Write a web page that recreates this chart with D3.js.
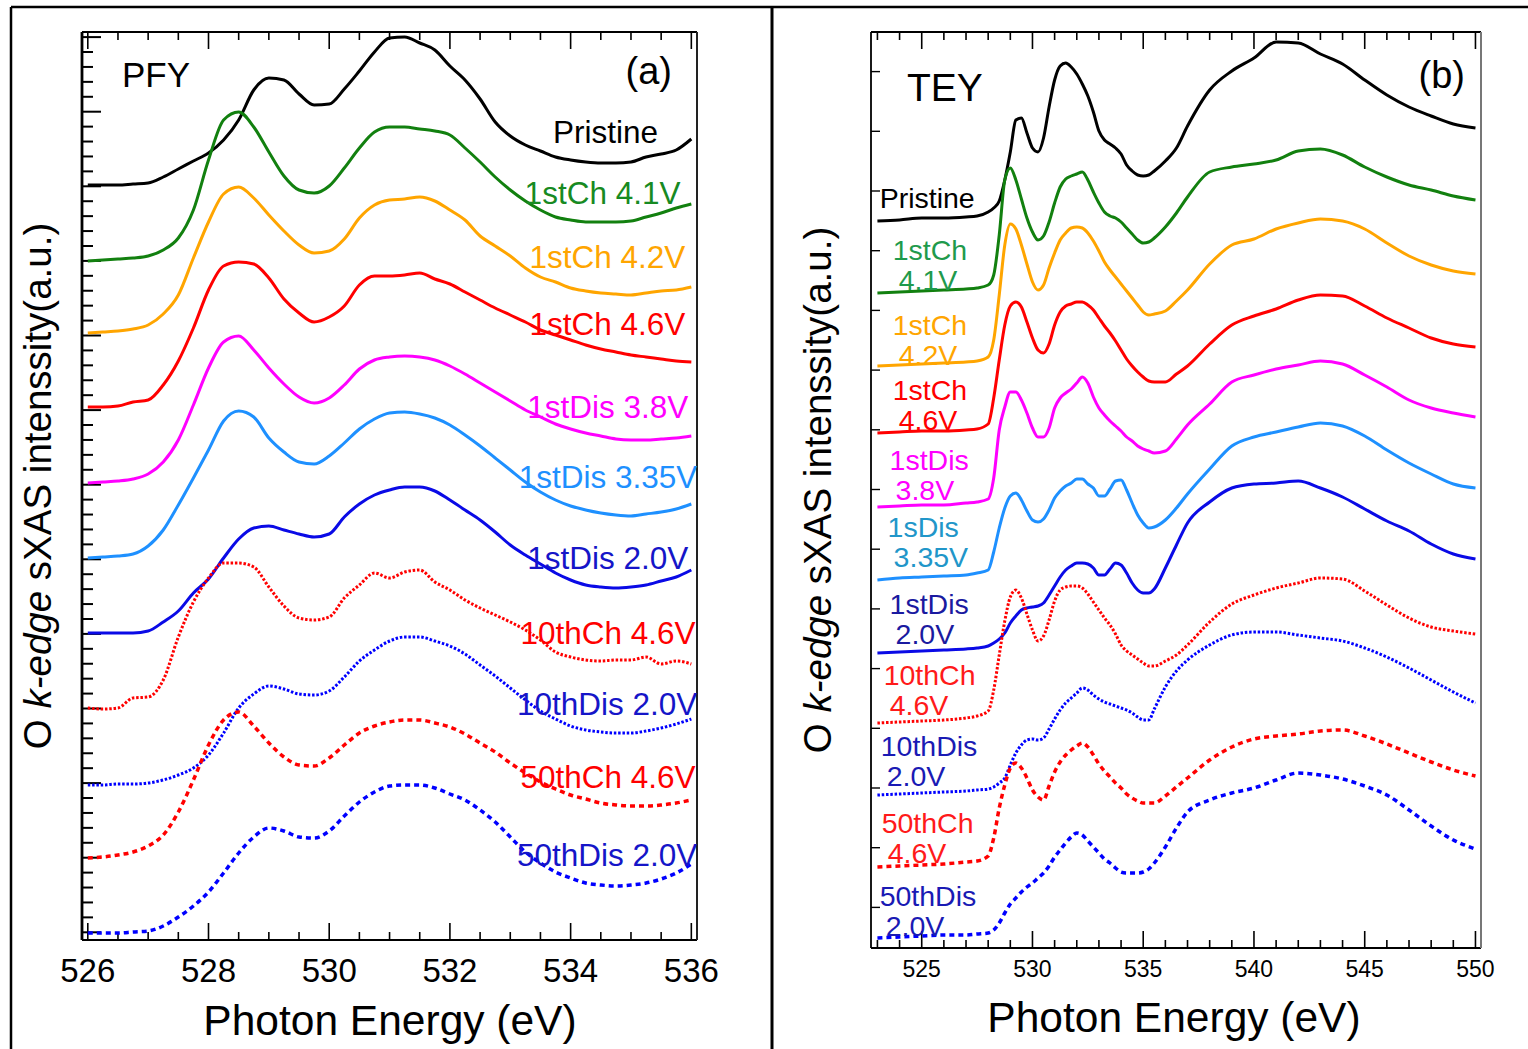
<!DOCTYPE html>
<html><head><meta charset="utf-8">
<script src="https://cdn.jsdelivr.net/npm/d3@7"></script>
<style>
body{margin:0;background:#fff;}
svg{display:block;}
text{font-family:"Liberation Sans",Arial,Helvetica,sans-serif;}
</style>
</head><body>
<svg id="chart" width="1528" height="1049"></svg>
<script>
// ---------------- DATA: panel (a) PFY ----------------
const pfyEnergy = [526,526.25,526.5,526.75,527,527.25,527.5,527.75,528,528.25,528.5,528.75,529,529.25,529.5,529.75,530,530.25,530.5,530.75,531,531.25,531.5,531.75,532,532.25,532.5,532.75,533,533.25,533.5,533.75,534,534.25,534.5,534.75,535,535.25,535.5,535.75,536];
const pfyPristine   = [755,755,755,756,757,763,771,779,787,800,820,850,862,860,846,835,836,851,869,888,902,903,897,890,874,860,841,818,804,795,789,783,780,778,777,777,778,783,786,790,801];
const pfyCh41       = [679,680,681,682,684,690,702,730,780,820,828,813,788,764,750,747,754,772,792,808,813,813,811,809,805,792,778,763,750,739,730,723,720,718,718,718,719,723,727,732,736];
const pfyCh42       = [607,608,609,611,615,626,645,682,718,746,753,742,725,709,695,687,689,701,722,735,740,741,743,739,730,720,704,694,684,672,663,658,652,649,647,646,645,647,649,650,653];
const pfyCh46       = [533,533,534,538,540,555,579,612,650,674,678,676,662,641,627,618,623,634,655,664,664,665,667,661,656,648,640,632,625,618,610,605,600,595,591,588,585,583,581,579,578];
const pfyDis38      = [457,458,459,461,466,478,500,535,572,598,604,590,572,556,543,537,542,555,571,580,583,584,583,580,574,566,557,548,539,530,523,516,511,507,504,501,500,500,501,502,504];
const pfyDis335     = [382,383,384,386,394,410,435,462,490,519,529,523,502,488,478,476,484,497,511,521,527,528,526,522,515,505,494,482,470,458,448,440,434,430,427,425,424,426,428,431,436];
const pfyDis20      = [307,307,307,307,309,318,329,347,361,382,401,412,414,410,406,403,406,423,436,445,450,453,453,449,440,430,420,408,395,385,376,367,360,355,353,352,353,355,359,363,370];
const pfy10Ch46     = [232,231,232,242,243,260,303,338,362,377,377,373,353,334,322,320,323,342,355,367,362,368,370,358,350,340,332,325,318,310,300,288,283,280,279,280,280,283,276,279,276];
const pfy10Dis20    = [155,155,156,156,157,160,165,172,185,207,232,246,254,251,246,245,249,263,279,290,299,303,303,299,294,286,275,264,252,240,229,221,214,210,208,207,207,209,212,216,221];
const pfy50Ch46     = [82,83,85,88,94,105,128,160,195,220,228,214,197,183,175,174,182,195,207,214,218,220,220,217,213,206,197,188,177,167,158,151,145,141,137,135,134,134,135,137,140];
const pfy50Dis20    = [7,7,7,8,9,14,23,34,48,67,87,103,112,109,103,102,109,124,138,148,154,155,155,152,146,140,130,118,103,88,77,68,62,57,55,54,55,57,61,67,76];
const pfyLabels = ["Pristine","1stCh 4.1V","1stCh 4.2V","1stCh 4.6V","1stDis 3.8V","1stDis 3.35V","1stDis 2.0V","10thCh 4.6V","10thDis 2.0V","50thCh 4.6V","50thDis 2.0V"];
const pfyTickLabels = ["526","528","530","532","534","536"];
const pfyMajorTicks = [526,528,530,532,534,536];

// ---------------- DATA: panel (b) TEY ----------------
const teyEnergy = [523,524,525,526,527,527.5,528,528.25,528.5,528.75,529,529.25,529.5,529.75,530,530.25,530.5,530.75,531,531.25,531.5,531.75,532,532.25,532.5,532.75,533,533.25,533.5,533.75,534,534.25,534.5,534.75,535,535.25,535.5,536,536.5,537,538,539,540,541,542,543,544,545,546,547,548,549,550];
const teyPristine = [727,728,730,730,731,732,736,740,747,768,796,828,830,815,800,796,810,841,868,882,885,881,874,864,852,836,817,808,804,800,794,783,777,773,772,773,777,787,800,822,858,877,890,906,905,894,884,868,853,841,832,824,820];
const teyCh41     = [655,656,657,658,659,660,663,673,713,768,780,768,749,730,716,708,712,726,745,761,769,772,774,776,768,756,745,736,732,730,726,720,714,708,705,706,710,721,735,751,776,781,784,788,797,799,793,781,771,763,758,752,748];
const teyCh42     = [582,583,584,585,586,587,591,608,653,703,724,719,703,684,666,658,663,680,695,708,715,720,721,720,715,707,697,686,678,671,664,657,650,643,636,633,634,637,647,658,684,703,709,719,725,729,727,719,705,692,683,677,674];
const teyCh46     = [515,516,517,517,518,519,524,550,588,623,642,646,641,626,610,598,595,604,623,636,642,644,646,646,643,638,630,622,615,607,598,589,582,576,571,567,566,566,574,582,604,623,632,639,648,653,652,642,630,620,610,604,601];
const teyDis38    = [441,442,443,443,445,446,449,470,518,541,556,556,548,535,520,511,511,520,540,550,555,559,565,571,565,551,540,533,527,522,517,511,507,502,499,497,495,497,509,523,544,566,573,579,583,587,584,573,561,548,540,535,531];
const teyDis335   = [368,370,371,372,373,375,378,396,420,440,452,455,448,437,428,426,429,438,450,457,462,465,469,469,464,460,452,452,459,467,468,458,445,433,425,420,421,428,440,454,479,502,511,516,521,525,522,512,498,485,474,464,460];
const teyDis20    = [295,296,297,298,299,300,302,305,309,315,325,332,338,340,341,342,345,353,362,371,378,382,385,385,384,380,373,373,379,385,383,375,365,358,355,355,359,380,403,425,446,460,464,465,467,460,451,439,427,417,404,394,389];
const tey10Ch46   = [225,226,227,228,230,232,237,258,293,327,351,358,350,334,318,307,312,328,347,358,361,362,362,360,354,346,338,330,323,314,303,297,293,289,285,282,282,287,293,303,326,344,353,360,365,370,369,357,343,330,321,317,314];
const tey10Dis20  = [153,154,155,156,157,158,159,161,165,170,183,195,203,208,209,208,210,219,229,238,245,250,255,260,258,253,249,246,244,242,240,238,235,231,228,228,239,261,277,288,303,313,316,316,313,310,307,300,291,280,268,256,245];
const tey50Ch46   = [81,82,83,84,86,87,92,110,140,163,180,185,180,170,158,151,148,162,176,186,193,198,202,205,201,193,184,177,171,165,160,154,150,147,145,145,145,152,161,170,188,201,209,212,214,217,218,212,204,195,186,178,172];
const tey50Dis20  = [10,11,12,13,13,14,15,18,25,35,44,50,56,61,65,70,75,82,91,98,105,111,115,113,107,101,95,89,85,80,76,75,75,75,76,79,85,101,120,136,148,155,160,168,175,173,169,162,153,138,122,108,99];
const teyLabels = [["Pristine"],["1stCh","4.1V"],["1stCh","4.2V"],["1stCh","4.6V"],["1stDis","3.8V"],["1sDis","3.35V"],["1stDis","2.0V"],["10thCh","4.6V"],["10thDis","2.0V"],["50thCh","4.6V"],["50thDis","2.0V"]];
const teyTickLabels = ["525","530","535","540","545","550"];
const teyMajorTicks = [525,530,535,540,545,550];

// label anchors in data coordinates (energy, intensity)
const pfyLabelPos = [[535.45,797],[535.82,736],[535.9,672],[535.9,605],[535.95,522],[536.1,452],[535.95,371],[536.07,296],[536.1,225],[536.07,152],[536.1,74]];
const teyLabelPos = [[523.10,740],[523.69,688],[523.69,613],[523.69,548],[523.55,478],[523.46,411],[523.55,334],[523.28,263],[523.15,192],[523.19,115],[523.10,42]];

// ---------------- STYLES ----------------
const lineColors = ["#000000","#12800f","#ffa500","#ff0000","#ff00ff","#1e90ff","#0a0ae6","#ff0000","#0000ff","#ff0000","#0000ff"];
const lineDash   = [null,null,null,null,null,null,null,"2.5,1.8","2.5,1.8","5,4","5,4"];
const lineWidth  = [3,3,3,3,3,3,3,3,3,3.5,3.5];
const pfyTextColors = ["#000000","#178a22","#ffa500","#ff0000","#ff00ff","#1e90ff","#1515c8","#ff0000","#1515c8","#ff0000","#1515c8"];
const teyTextColors = ["#000000","#1f9a4c","#ffa500","#ff0000","#ff00ff","#2196c9","#1a1aa0","#ff1a1a","#1a1ab4","#ff1a1a","#1a1ab4"];

const svg = d3.select("#chart");

// outer frame
svg.append("line").attr("x1",11).attr("x2",1528).attr("y1",7).attr("y2",7).attr("stroke","#000").attr("stroke-width",2.5);
svg.append("line").attr("x1",11).attr("x2",11).attr("y1",7).attr("y2",1049).attr("stroke","#000").attr("stroke-width",2.5);
svg.append("line").attr("x1",772).attr("x2",772).attr("y1",7).attr("y2",1049).attr("stroke","#000").attr("stroke-width",3);

function drawPanel(p){
  const x = d3.scaleLinear().domain(p.xDomain).range(p.xRange);
  const y = d3.scaleLinear().domain(p.yDomain).range(p.yRange);
  const [x0,x1] = p.xRange, [y0,y1] = [p.yRange[1], p.yRange[0]];
  const g = svg.append("g");
  const clipId = "clip"+p.id;
  svg.append("clipPath").attr("id",clipId).append("rect").attr("x",x0).attr("y",y0).attr("width",x1-x0).attr("height",y1-y0);

  const tickG = g.append("g").attr("stroke","#000").attr("stroke-width",1.6);
  p.minorX.forEach(v=>{
    const major = p.majorX.includes(v);
    const L = major ? p.majorLen : p.minorLen;
    tickG.append("line").attr("x1",x(v)).attr("x2",x(v)).attr("y1",y0).attr("y2",y0+L);
    tickG.append("line").attr("x1",x(v)).attr("x2",x(v)).attr("y1",y1).attr("y2",y1-L);
  });
  p.yTicks.forEach((v,i)=>{
    const major = p.yMajorEvery ? (i % p.yMajorEvery === 0) : true;
    const L = major ? p.yMajorLen : p.yMinorLen;
    tickG.append("line").attr("x1",x0).attr("x2",x0+L).attr("y1",y(v)).attr("y2",y(v)).attr("stroke-width",p.yTickW);
  });

  g.append("line").attr("x1",x0).attr("x2",x0).attr("y1",y0).attr("y2",y1).attr("stroke","#000").attr("stroke-width",p.leftW);
  g.append("line").attr("x1",x0).attr("x2",x1).attr("y1",y0).attr("y2",y0).attr("stroke","#000").attr("stroke-width",1.8);
  g.append("line").attr("x1",x0).attr("x2",x1).attr("y1",y1).attr("y2",y1).attr("stroke","#000").attr("stroke-width",2);
  g.append("line").attr("x1",x1).attr("x2",x1).attr("y1",y0).attr("y2",y1).attr("stroke",p.rightColor).attr("stroke-width",2);

  const line = d3.line().x(d=>x(d[0])).y(d=>y(d[1])).curve(d3.curveMonotoneX);
  const cg = g.append("g").attr("clip-path",`url(#${clipId})`);
  p.series.forEach((s,i)=>{
    const pts = p.energy.map((e,k)=>[e,s[k]]);
    cg.append("path").attr("d",line(pts)).attr("fill","none")
      .attr("stroke",lineColors[i]).attr("stroke-width",lineWidth[i])
      .attr("stroke-dasharray",lineDash[i]).attr("stroke-linejoin","round");
  });

  p.majorX.forEach((v,i)=>{
    g.append("text").attr("x",x(v)).attr("y",p.tickLabelY).attr("text-anchor","middle")
      .attr("font-size",p.tickFont).attr("fill","#000").text(p.tickLabels[i]);
  });
  g.append("text").attr("x",p.xTitlePos[0]).attr("y",p.xTitlePos[1]).attr("text-anchor","middle")
    .attr("font-size",42.5).attr("fill","#000").text("Photon Energy (eV)");
  const yt = g.append("text").attr("transform",`translate(${p.yTitlePos[0]},${p.yTitlePos[1]}) rotate(-90)`)
    .attr("text-anchor","middle").attr("font-size",38.5).attr("fill","#000");
  yt.append("tspan").text("O ");
  yt.append("tspan").attr("font-style","italic").text("k-edge");
  yt.append("tspan").text(" sXAS intenssity(a.u.)");
  return {x,y,g};
}

// ---------- panel (a) ----------
const pa = drawPanel({
  id:"a", xDomain:[525.904,536.094], xRange:[82,697], yDomain:[0,908], yRange:[940,32],
  minorX:[526,526.5,527,527.5,528,528.5,529,529.5,530,530.5,531,531.5,532,532.5,533,533.5,534,534.5,535,535.5,536],
  majorX:pfyMajorTicks, majorLen:17, minorLen:8,
  yTicks:d3.range(0,61).map(k=>7.7+14.92*k).filter(v=>v<=906), yMajorEvery:5, yMajorLen:19, yMinorLen:11, yTickW:2,
  leftW:2.8, rightColor:"#222",
  series:[pfyPristine,pfyCh41,pfyCh42,pfyCh46,pfyDis38,pfyDis335,pfyDis20,pfy10Ch46,pfy10Dis20,pfy50Ch46,pfy50Dis20],
  energy:pfyEnergy, tickLabels:pfyTickLabels, tickLabelY:982, tickFont:33,
  xTitlePos:[390,1035], yTitlePos:[51,486]
});
pfyLabels.forEach((t,i)=>{
  pa.g.append("text").attr("x",pa.x(pfyLabelPos[i][0])).attr("y",pa.y(pfyLabelPos[i][1]))
    .attr("text-anchor","end").attr("font-size",31.5).attr("fill",pfyTextColors[i]).text(t);
});
pa.g.append("text").attr("x",122).attr("y",87).attr("font-size",35).attr("fill","#000").text("PFY");
pa.g.append("text").attr("x",672).attr("y",84).attr("text-anchor","end").attr("font-size",38).attr("fill","#000").text("(a)");

// ---------- panel (b) ----------
const pb = drawPanel({
  id:"b", xDomain:[522.71,550.25], xRange:[871,1481], yDomain:[0,916], yRange:[948,32],
  minorX:d3.range(523,551,1),
  majorX:teyMajorTicks, majorLen:17, minorLen:8,
  yTicks:d3.range(0,15).map(k=>40.6+59.7*k), yMajorEvery:0, yMajorLen:9, yMinorLen:9, yTickW:1.4,
  leftW:1.8, rightColor:"#777",
  series:[teyPristine,teyCh41,teyCh42,teyCh46,teyDis38,teyDis335,teyDis20,tey10Ch46,tey10Dis20,tey50Ch46,tey50Dis20],
  energy:teyEnergy, tickLabels:teyTickLabels, tickLabelY:977, tickFont:23,
  xTitlePos:[1174,1032], yTitlePos:[831,490]
});
teyLabels.forEach((lines,i)=>{
  const t = pb.g.append("text").attr("x",pb.x(teyLabelPos[i][0])).attr("y",pb.y(teyLabelPos[i][1]))
    .attr("font-size",28.5).attr("fill",teyTextColors[i]);
  lines.forEach((s,j)=>{
    const ts = t.append("tspan").text(s);
    if(j>0) ts.attr("x",pb.x(teyLabelPos[i][0])+6).attr("dy",29.5);
  });
});
pb.g.append("text").attr("x",907).attr("y",101).attr("font-size",39).attr("fill","#000").text("TEY");
pb.g.append("text").attr("x",1465).attr("y",88).attr("text-anchor","end").attr("font-size",38).attr("fill","#000").text("(b)");
</script>
</body></html>
